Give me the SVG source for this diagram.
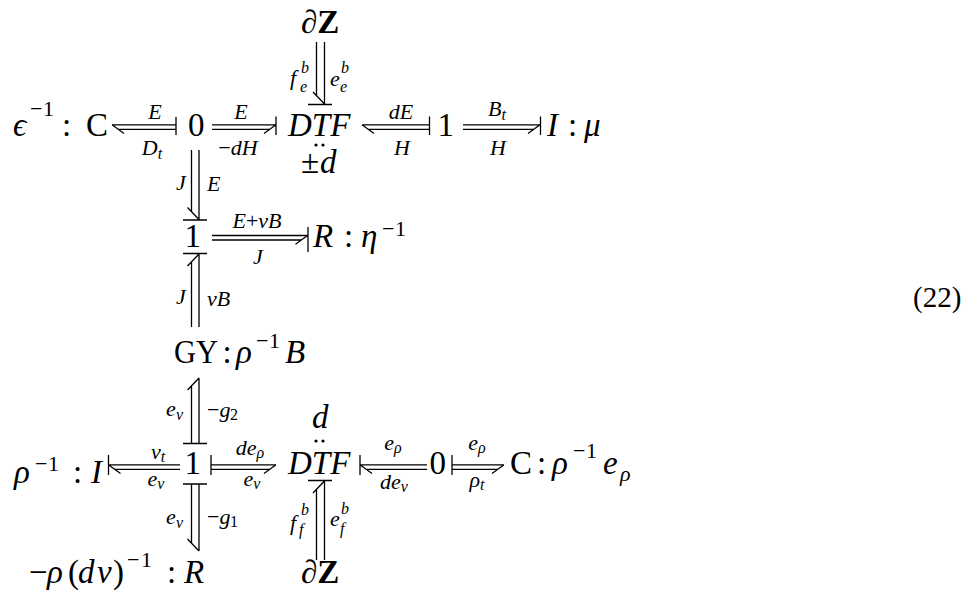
<svg xmlns="http://www.w3.org/2000/svg" width="972" height="592" viewBox="0 0 972 592">
<style>
.t{font-family:"Liberation Serif","DejaVu Serif",serif;fill:#000}
.i{font-style:italic}
.big{font-size:33px}
.sup{font-size:22px}
.lab{font-size:22px}
.sub{font-size:16px}
.bd{font-weight:bold}
.mid{text-anchor:middle}
.ln{stroke:#000;stroke-width:1.3;fill:none}
</style>
<rect width="972" height="592" fill="#fff"/>

<g id="n-C-top">
<text class="t big i" x="13" y="136">ϵ</text>
<text class="t sup" x="30" y="116">−</text><text class="t sup" x="43" y="116">1</text>
<text class="t big" x="62" y="136">:</text>
<text class="t big" x="86" y="136">C</text>
</g>
<g id="n-0-top"><text class="t big" x="188" y="136">0</text></g>
<g id="n-DTF-top">
<text class="t big i" x="288" y="136">DTF</text>
<circle cx="316" cy="145" r="1.6"/><circle cx="323" cy="145" r="1.6"/>
<text class="t big" x="301" y="173">±</text><text class="t big i" x="320" y="173">d</text>
</g>
<g id="n-dZ-top"><text class="t big bd" x="301" y="33">∂Z</text></g>
<g id="n-1-top"><text class="t big" x="437.5" y="136">1</text></g>
<g id="n-I-top">
<text class="t big i" x="547" y="136">I</text>
<text class="t big" x="568" y="136">:</text>
<text class="t big i" x="584" y="136">μ</text>
</g>
<g id="n-1-mid"><text class="t big" x="184.5" y="247">1</text></g>
<g id="n-R-mid">
<text class="t big i" x="313" y="247">R</text>
<text class="t big" x="344" y="247">:</text>
<text class="t big i" x="361" y="247">η</text>
<text class="t sup" x="382" y="236">−</text><text class="t sup" x="395" y="236">1</text>
</g>
<g id="n-GY">
<text class="t big" x="174" y="363" textLength="44" lengthAdjust="spacingAndGlyphs">GY</text>
<text class="t big" x="222.5" y="363">:</text>
<text class="t big i" x="236" y="363">ρ</text>
<text class="t sup" x="256" y="348">−</text><text class="t sup" x="269" y="348">1</text>
<text class="t big i" x="285" y="363">B</text>
</g>
<g id="n-I-bot">
<text class="t big i" x="14" y="483">ρ</text>
<text class="t sup" x="35" y="471">−</text><text class="t sup" x="48" y="471">1</text>
<text class="t big" x="73" y="483">:</text>
<text class="t big i" x="91" y="483">I</text>
</g>
<g id="n-1-bot"><text class="t big" x="184.5" y="474">1</text></g>
<g id="n-DTF-bot">
<text class="t big i" x="312" y="428">d</text>
<circle cx="316" cy="441" r="1.6"/><circle cx="323" cy="441" r="1.6"/>
<text class="t big i" x="288" y="474">DTF</text>
</g>
<g id="n-0-bot"><text class="t big" x="429.5" y="474">0</text></g>
<g id="n-C-bot">
<text class="t big" x="510" y="474">C</text>
<text class="t big" x="537" y="474">:</text>
<text class="t big i" x="552" y="474">ρ</text>
<text class="t sup" x="573" y="458">−</text><text class="t sup" x="586" y="458">1</text>
<text class="t big i" x="603" y="474">e</text>
<text class="t sup i" x="620" y="481">ρ</text>
</g>
<g id="n-R-bot">
<text class="t big" x="29" y="583">−</text>
<text class="t big i" x="47" y="583">ρ</text>
<text class="t big" x="68" y="583">(</text>
<text class="t big i" x="78" y="583">d</text>
<text class="t big i" x="97" y="583">v</text>
<text class="t big" x="113" y="583">)</text>
<text class="t sup" x="127" y="567">−</text><text class="t sup" x="141" y="567">1</text>
<text class="t big" x="167" y="583">:</text>
<text class="t big i" x="184" y="583">R</text>
</g>
<g id="n-dZ-bot"><text class="t big bd" x="301" y="583">∂Z</text></g>
<g id="eqno"><text class="t" style="font-size:29px" x="913" y="307">(22)</text></g>

<g id="connectors">
<g id="b1">
<path class="ln" d="M112,124.8H176M118.2,129.3H176M112,124.8L124,133.5M176,117V135"/>
<text class="t lab i mid" x="155" y="119">E</text>
<text class="t lab i mid" x="152" y="155">D<tspan class="sub" dy="4">t</tspan></text>
</g>
<g id="b2">
<path class="ln" d="M212,124.8H276M212,129.3H269.8M276,124.8L264,133.5M276,116.5V135"/>
<text class="t lab i mid" x="241" y="119">E</text>
<text class="t lab mid" x="238" y="155">−<tspan class="i">dH</tspan></text>
</g>
<g id="b3">
<path class="ln" d="M362,124.8H429.5M368.2,129.3H429.5M362,124.8L374,133.5M429.5,116.5V135"/>
<text class="t lab i mid" x="401" y="119">dE</text>
<text class="t lab i mid" x="402" y="155">H</text>
</g>
<g id="b4">
<path class="ln" d="M463,124.8H540M463,129.3H533.8M540,124.8L528,133.5M540.5,116.5V135"/>
<text class="t lab i mid" x="497" y="116">B<tspan class="sub" dy="4">t</tspan></text>
<text class="t lab i mid" x="498" y="155">H</text>
</g>
<g id="v1">
<path class="ln" d="M324.5,42V104M316.5,42V95.7M324.5,104L313,92M308,104.5H332"/>
<text class="t lab i" x="290" y="85">f</text><text class="t sub i" x="301" y="73">b</text><text class="t sub i" x="300" y="92">e</text>
<text class="t lab i" x="330" y="86">e</text><text class="t sub i" x="341" y="73">b</text><text class="t sub i" x="340" y="92">e</text>
</g>
<g id="v2">
<path class="ln" d="M199,150V219.5M191.5,150V211.7M199,219.5L187.5,207.5M183,220H207"/>
<text class="t lab i" x="176" y="190">J</text>
<text class="t lab i" x="207" y="191">E</text>
</g>
<g id="bm">
<path class="ln" d="M212,235.5H307.5M212,240H301.3M307.5,235.5L295.5,244.2M308,227V252"/>
<text class="t lab i mid" x="257" y="228">E<tspan font-style="normal">+</tspan>vB</text>
<text class="t lab i mid" x="258" y="264">J</text>
</g>
<g id="v3">
<path class="ln" d="M199,254V327M191.5,261.8V327M199,254L187.5,266M183,253.5H207"/>
<text class="t lab i" x="176" y="304">J</text>
<text class="t lab i" x="207" y="306">vB</text>
</g>
<g id="v4">
<path class="ln" d="M199,378V443M191.5,385.8V443M199,378L187.5,390M183,443.5H207"/>
<text class="t lab i" x="166" y="416">e</text><text class="t sub i" x="176" y="420">v</text>
<text class="t lab" x="207" y="417">−<tspan class="i">g</tspan></text><text class="t sub" x="230" y="420">2</text>
</g>
<g id="b5">
<path class="ln" d="M108.5,464.8H180M114.7,469.3H180M108.5,464.8L120.5,473.5M108.5,455V475"/>
<text class="t lab i mid" x="158" y="459">v<tspan class="sub" dy="3">t</tspan></text>
<text class="t lab i mid" x="156" y="486">e<tspan class="sub" dy="3">v</tspan></text>
</g>
<g id="b6">
<path class="ln" d="M211,464.8H276M211,469.3H269.8M276,464.8L264,473.5M211,455V475"/>
<text class="t lab i mid" x="250" y="455">de<tspan class="sub" dy="3">ρ</tspan></text>
<text class="t lab i mid" x="252" y="486">e<tspan class="sub" dy="3">v</tspan></text>
</g>
<g id="b7">
<path class="ln" d="M360,464.8H427M366.2,469.3H427M360,464.8L372,473.5M360,455V475"/>
<text class="t lab i mid" x="393" y="450">e<tspan class="sub" dy="3">ρ</tspan></text>
<text class="t lab i mid" x="394" y="489">de<tspan class="sub" dy="3">v</tspan></text>
</g>
<g id="b8">
<path class="ln" d="M452,464.8H504M452,469.3H497.8M504,464.8L492,473.5M452,455V475"/>
<text class="t lab i mid" x="477" y="450">e<tspan class="sub" dy="3">ρ</tspan></text>
<text class="t lab i mid" x="477" y="487">ρ<tspan class="sub" dy="3">t</tspan></text>
</g>
<g id="v5">
<path class="ln" d="M199,484V551M191.5,484V543.2M199,551L187.5,539M183,484H207"/>
<text class="t lab i" x="166" y="524">e</text><text class="t sub i" x="176" y="528">v</text>
<text class="t lab" x="207" y="524">−<tspan class="i">g</tspan></text><text class="t sub" x="230" y="527">1</text>
</g>
<g id="v6">
<path class="ln" d="M324.5,481V560M316.5,489.3V560M324.5,481L313,493M308,480.5H332"/>
<text class="t lab i" x="290" y="530">f</text><text class="t sub i" x="301" y="515">b</text><text class="t sub i" x="299" y="535">f</text>
<text class="t lab i" x="330" y="526">e</text><text class="t sub i" x="341" y="514">b</text><text class="t sub i" x="340" y="534">f</text>
</g>
</g>
</svg>
